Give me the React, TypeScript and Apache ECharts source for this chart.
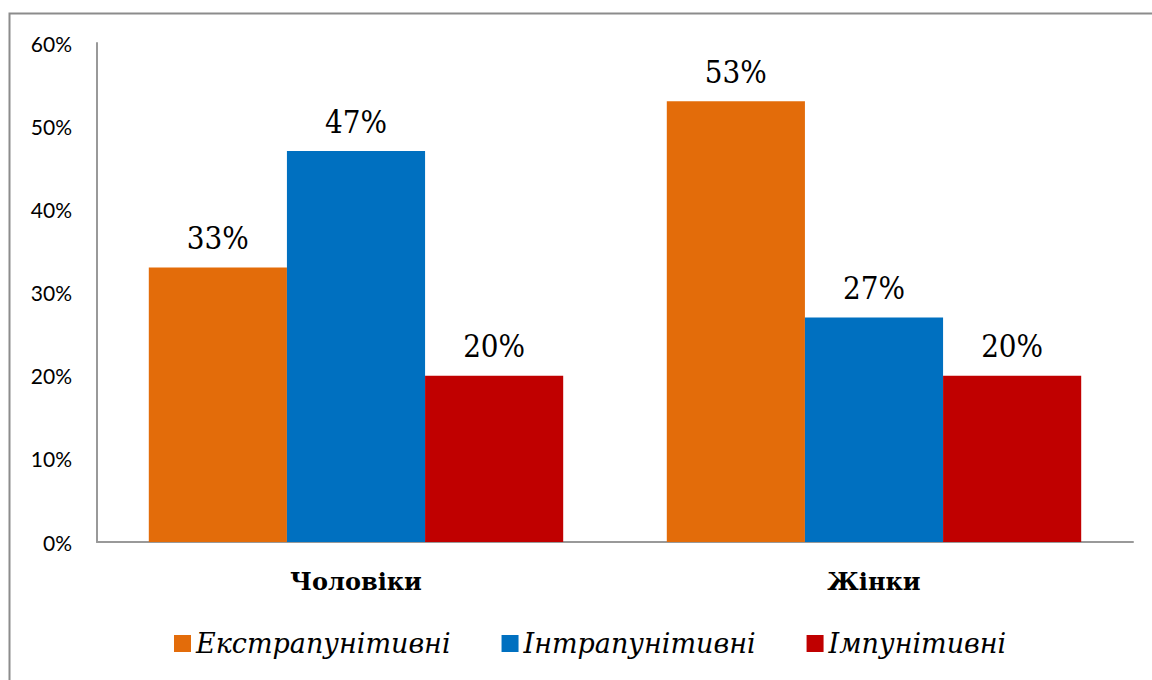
import React, { useEffect, useRef } from "react";
import * as echarts from "echarts";

const categories = ["Чоловіки", "Жінки"];
const seriesNames = ["Екстрапунітивні", "Інтрапунітивні", "Імпунітивні"];
const extra = [33, 53];
const intra = [47, 27];
const impun = [20, 20];
const yTicks = [0, 10, 20, 30, 40, 50, 60];
const colors = ["#E36C0A", "#0070C0", "#C00000"];

const SERIF = "DejaVu Serif Condensed";
const SERIF_STYLED = "DejaVu Serif";
const SANS = "Lato";

export default function App() {
  const ref = useRef<HTMLDivElement>(null);
  useEffect(() => {
    const chart = echarts.init(ref.current!, null, { renderer: "svg" });
    const values = [extra, intra, impun];
    chart.setOption({
      animation: false,
      backgroundColor: "#ffffff",
      graphic: [
        {
          type: "rect",
          shape: { x: 9.5, y: 13.5, width: 1300, height: 800 },
          style: { fill: "none", stroke: "#8c8c8c", lineWidth: 2 },
          silent: true,
        },
      ],
      grid: { left: 97, right: 19, top: 43, bottom: 138, containLabel: false },
      legend: {
        top: 625,
        left: 169,
        itemWidth: 17,
        itemHeight: 17,
        itemGap: 51,
        icon: "rect",
        data: seriesNames,
        textStyle: {
          fontFamily: SERIF_STYLED,
          fontStyle: "italic",
          fontSize: 27,
          color: "#000",
        },
      },
      xAxis: {
        type: "category",
        data: categories,
        axisLine: { lineStyle: { color: "#999", width: 2 } },
        axisTick: { show: false },
        axisLabel: {
          fontFamily: SERIF_STYLED,
          fontWeight: "bold",
          fontSize: 24,
          color: "#000",
          margin: 27,
        },
      },
      yAxis: {
        type: "value",
        min: yTicks[0],
        max: yTicks[yTicks.length - 1],
        interval: 10,
        axisLine: { show: true, lineStyle: { color: "#999", width: 2 } },
        axisTick: { show: false },
        splitLine: { show: false },
        axisLabel: {
          formatter: "{value}%",
          fontFamily: SANS,
          fontSize: 21,
          color: "#000",
          margin: 25,
        },
      },
      series: seriesNames.map((name, i) => ({
        name,
        type: "bar",
        data: values[i],
        barGap: "0%",
        barCategoryGap: "20%",
        itemStyle: { color: colors[i] },
        label: {
          show: true,
          position: "top",
          distance: 14,
          formatter: "{c}%",
          fontFamily: SERIF,
          fontSize: 31,
          color: "#000",
        },
      })),
    });
    return () => chart.dispose();
  }, []);
  return (
    <div
      ref={ref}
      style={{ position: "fixed", left: 0, top: 0, width: 1152, height: 680 }}
    />
  );
}
